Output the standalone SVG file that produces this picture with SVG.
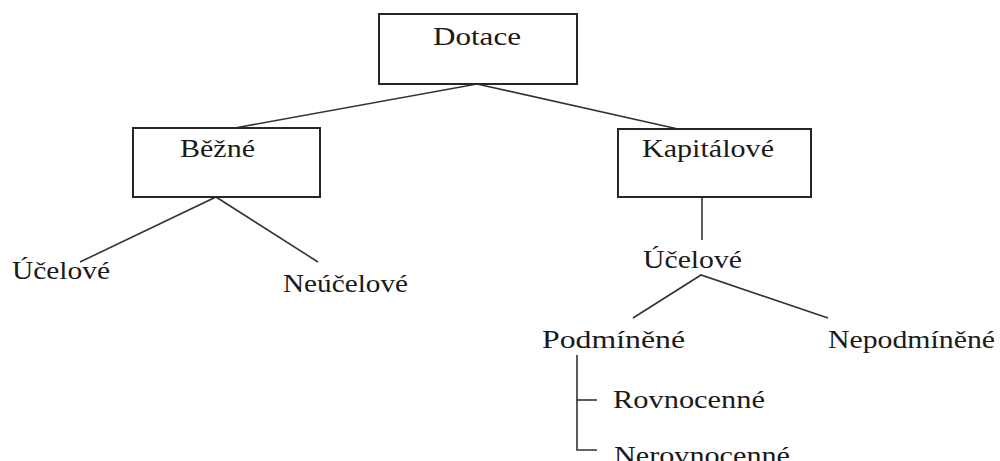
<svg xmlns="http://www.w3.org/2000/svg" width="1000" height="461" viewBox="0 0 1000 461">
  <style>
    .box { fill: #ffffff; stroke: #262626; stroke-width: 2; }
    .edge { fill: none; stroke: #333333; stroke-width: 1.6; }
    .lbl { font-family: "Liberation Serif", "Times New Roman", serif; font-size: 25px; fill: #1a1a1a; }
  </style>
  <rect width="1000" height="461" fill="#ffffff"/>

  <!-- connectors -->
  <g id="connectors">
    <polyline class="edge" points="235,128 477,84 678,129"/>
    <polyline class="edge" points="80,262 216,197 318,262"/>
    <line class="edge" x1="702" y1="197" x2="702" y2="240"/>
    <polyline class="edge" points="633,318 701,275 828,318"/>
    <polyline class="edge" points="577,355 577,450 597,450"/>
    <line class="edge" x1="577" y1="400" x2="597" y2="400"/>
  </g>

  <!-- boxed nodes -->
  <g id="dotace">
    <rect class="box" x="379" y="14" width="198" height="70"/>
    <text class="lbl" x="433" y="45" textLength="88" lengthAdjust="spacingAndGlyphs">Dotace</text>
  </g>
  <g id="bezne">
    <rect class="box" x="133" y="128" width="187" height="69"/>
    <text class="lbl" x="180" y="157" textLength="75" lengthAdjust="spacingAndGlyphs">Běžné</text>
  </g>
  <g id="kapitalove">
    <rect class="box" x="618" y="129" width="193" height="68"/>
    <text class="lbl" x="642" y="157" textLength="132" lengthAdjust="spacingAndGlyphs">Kapitálové</text>
  </g>

  <!-- plain label nodes -->
  <g id="bezne-ucelove">
    <text class="lbl" x="12" y="279" textLength="98" lengthAdjust="spacingAndGlyphs">Účelové</text>
  </g>
  <g id="bezne-neucelove">
    <text class="lbl" x="283" y="292" textLength="125" lengthAdjust="spacingAndGlyphs">Neúčelové</text>
  </g>
  <g id="kap-ucelove">
    <text class="lbl" x="643" y="268" textLength="99" lengthAdjust="spacingAndGlyphs">Účelové</text>
  </g>
  <g id="podminene">
    <text class="lbl" x="542" y="348" textLength="143" lengthAdjust="spacingAndGlyphs">Podmíněné</text>
  </g>
  <g id="nepodminene">
    <text class="lbl" x="828" y="348" textLength="167" lengthAdjust="spacingAndGlyphs">Nepodmíněné</text>
  </g>
  <g id="rovnocenne">
    <text class="lbl" x="613" y="408" textLength="152" lengthAdjust="spacingAndGlyphs">Rovnocenné</text>
  </g>
  <g id="nerovnocenne">
    <text class="lbl" x="614" y="464" textLength="176" lengthAdjust="spacingAndGlyphs">Nerovnocenné</text>
  </g>
</svg>
